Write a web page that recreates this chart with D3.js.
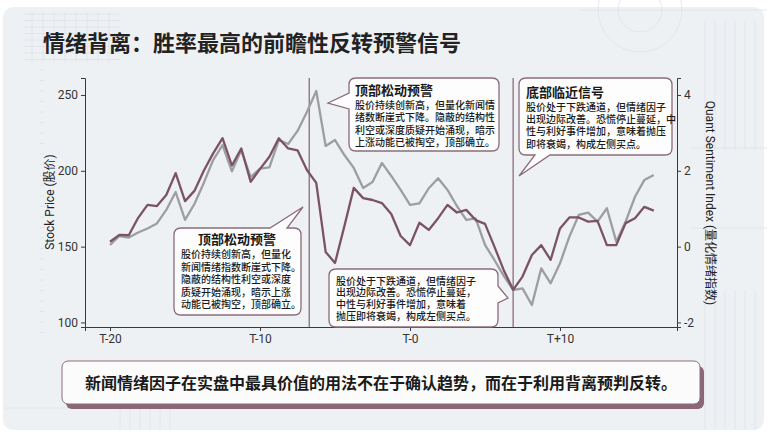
<!DOCTYPE html>
<html>
<head>
<meta charset="utf-8">
<script src="https://cdn.jsdelivr.net/npm/d3@7"></script>
<style>
  html, body { margin: 0; padding: 0; background: #fff; }
  svg { display: block; font-family: Roboto, "Noto Sans CJK SC", sans-serif; }
</style>
</head>
<body>
<svg id="chart" width="767" height="435"></svg>
<script>
// stock price (left axis) and quant sentiment index (right axis), one value per step
const price = [151.1, 157.0, 156.0, 159.3, 162.0, 165.3, 174.2, 186.0, 167.6, 178.1,
  192.0, 207.1, 217.0, 199.6, 213.7, 195.9, 201.5, 202.2, 220.3, 217.7,
  226.3, 238.8, 252.6, 216.4, 220.3, 210.4, 201.9, 188.7, 192.6, 205.2,
  196.6, 187.4, 177.5, 178.5, 188.5, 195.1, 187.4, 176.8, 167.6, 168.6,
  151.1, 141.2, 130.7, 121.4, 122.5, 111.5, 135.7, 125.8, 139.0, 156.6,
  170.9, 172.4, 166.5, 175.3, 153.3, 166.5, 182.9, 194.0, 197.3];
const sentiment = [0.13, 0.31, 0.30, 0.76, 1.10, 1.07, 1.36, 1.94, 1.20, 1.47,
  2.00, 2.46, 2.86, 2.14, 2.59, 1.71, 2.05, 2.37, 2.86, 2.59,
  2.54, 2.02, 1.68, -0.14, -0.43, 0.54, 1.55, 1.28, 1.23, 1.15,
  0.86, 0.28, 0.04, 0.63, 0.44, 0.75, 1.10, 0.90, 0.97, 0.70,
  0.60, 0.00, -0.62, -1.14, -0.79, -0.22, 0.04, -0.35, 0.48, 0.77,
  0.77, 0.66, 0.68, 0.04, 0.04, 0.62, 0.75, 1.05, 0.95];

const xTicks = [0, 16, 32, 48];
const xTickLabels = ['T-20', 'T-10', 'T-0', 'T+10'];
const priceTicks = [100, 150, 200, 250];
const sentimentTicks = [-2, 0, 2, 4];
const markerSteps = [21.25, 43];   // vertical divergence markers

const titleText = '情绪背离：胜率最高的前瞻性反转预警信号';
const bannerText = '新闻情绪因子在实盘中最具价值的用法不在于确认趋势，而在于利用背离预判反转。';

const callouts = [
  { box: [174, 228, 127, 87], ptr: { side: 'top', a: 270, b: 287, tx: 303, ty: 207 },
    title: '顶部松动预警', titleAnchor: 'middle', titleX: 237, titleY: 244,
    textX: 181, textY: 258, lh: 12.5,
    lines: ['股价持续创新高，但量化', '新闻情绪指数断崖式下降。', '隐蔽的结构性利空或深度', '质疑开始涌现，暗示上涨', '动能已被掏空，顶部确立。'] },
  { box: [349, 78, 150, 73], ptr: { side: 'left', a: 93, b: 109, tx: 328, ty: 103 },
    title: '顶部松动预警', titleAnchor: 'start', titleX: 355, titleY: 95,
    textX: 355, textY: 109, lh: 12.4,
    lines: ['股价持续创新高，但量化新闻情', '绪数断崖式下降。隐蔽的结构性', '利空或深度质疑开始涌现，暗示', '上涨动能已被掏空，顶部确立。'] },
  { box: [519, 78, 153, 77], ptr: { side: 'bottom', a: 535, b: 550, tx: 519, ty: 176 },
    title: '底部临近信号', titleAnchor: 'start', titleX: 526, titleY: 97,
    textX: 526, textY: 110.5, lh: 12.4,
    lines: ['股价处于下跌通道，但情绪因子', '出现边际改善。恐慌停止蔓延，中', '性与利好事件增加，意味着抛压', '即将衰竭，构成左侧买点。'] },
  { box: [329, 269, 169, 58], ptr: { side: 'right', a: 286, b: 303, tx: 508, ty: 298 },
    title: null, textX: 336, textY: 284.5, lh: 11.9,
    lines: ['股价处于下跌通道，但情绪因子', '出现边际改善。恐慌停止蔓延，', '中性与利好事件增加，意味着', '抛压即将衰竭，构成左侧买点。'] }
];

const maroon = '#7b5366';
const frame = '#8c6c7b';
const greyLine = '#9c9e9f';

const svg = d3.select('#chart');

// card background
svg.append('rect').attr('x', 3).attr('y', 7).attr('width', 761).attr('height', 423)
  .attr('rx', 10).attr('fill', '#eef1f4');

// faint blueprint decoration
const deco = svg.append('g').attr('stroke', '#dde2e8').attr('stroke-width', 0.8).attr('fill', 'none');
for (let i = 0; i < 8; i++) {
  deco.append('line').attr('x1', 32 + i * 11).attr('x2', 32 + i * 11).attr('y1', 12).attr('y2', 62);
  deco.append('line').attr('x1', 24).attr('x2', 120).attr('y1', 14 + i * 6.5).attr('y2', 14 + i * 6.5);
}
deco.append('circle').attr('cx', 640).attr('cy', 10).attr('r', 42);
deco.append('circle').attr('cx', 640).attr('cy', 10).attr('r', 22);
deco.append('line').attr('x1', 580).attr('x2', 767).attr('y1', 10).attr('y2', 10);
for (let i = 0; i < 6; i++) {
  deco.append('line').attr('x1', 705 + i * 10).attr('x2', 705 + i * 10).attr('y1', 20).attr('y2', 150);
  deco.append('line').attr('x1', 705 + i * 10).attr('x2', 705 + i * 10).attr('y1', 290).attr('y2', 430);
  deco.append('line').attr('x1', 120 + i * 10).attr('x2', 120 + i * 10).attr('y1', 405).attr('y2', 430);
}
deco.append('line').attr('x1', 690).attr('x2', 767).attr('y1', 148).attr('y2', 148);
deco.append('line').attr('x1', 690).attr('x2', 767).attr('y1', 228).attr('y2', 228);
deco.append('line').attr('x1', 5).attr('x2', 140).attr('y1', 408).attr('y2', 408);
for (let i = 0; i < 26; i++) {
  deco.append('line').attr('x1', 40).attr('x2', 44).attr('y1', 70 + i * 10.5).attr('y2', 70 + i * 10.5);
}

// scales
const x = d3.scaleLinear().domain([-2.67, 60.48]).range([85, 677]);
const yL = d3.scaleLinear().domain([97, 261.2]).range([327, 78]);
const yR = d3.scaleLinear().domain([(97 - 150) / 25, (261.2 - 150) / 25]).range([327, 78]);

// axes
const axisG = svg.append('g');
const bottom = axisG.append('g').attr('transform', 'translate(0,327)')
  .call(d3.axisBottom(x).tickValues(xTicks).tickFormat((d, i) => xTickLabels[i]).tickSizeOuter(0).tickSize(4));
const left = axisG.append('g').attr('transform', 'translate(85,0)')
  .call(d3.axisLeft(yL).tickValues(priceTicks).tickSizeOuter(0).tickSize(4));
const right = axisG.append('g').attr('transform', 'translate(677,0)')
  .call(d3.axisRight(yR).tickValues(sentimentTicks).tickSizeOuter(0).tickSize(4));
[bottom, left, right].forEach(g => {
  g.select('.domain').attr('stroke', '#3a3a3a').attr('stroke-width', 1);
  g.selectAll('.tick line').attr('stroke', '#3a3a3a');
  g.selectAll('.tick text').attr('fill', '#333').attr('font-size', 12)
    .attr('font-family', 'Roboto, sans-serif');
});
right.selectAll('.tick text').text(d => d < 0 ? '-' + Math.abs(d) : d);

svg.append('text').attr('transform', 'translate(54,202) rotate(-90)')
  .attr('text-anchor', 'middle').attr('font-size', 12).attr('fill', '#222')
  .text('Stock Price (股价)');
svg.append('text').attr('transform', 'translate(706,203) rotate(90)')
  .attr('text-anchor', 'middle').attr('font-size', 12).attr('fill', '#222')
  .text('Quant Sentiment Index (量化情绪指数)');

// divergence markers
svg.selectAll('.marker').data(markerSteps).enter().append('line')
  .attr('class', 'marker')
  .attr('x1', d => x(d)).attr('x2', d => x(d))
  .attr('y1', 78).attr('y2', 327)
  .attr('stroke', frame).attr('stroke-width', 1.3);

// series lines
const priceLine = d3.line().x((d, i) => x(i)).y(d => yL(d));
const sentLine = d3.line().x((d, i) => x(i)).y(d => yR(d));
svg.append('path').datum(price).attr('d', priceLine)
  .attr('fill', 'none').attr('stroke', greyLine).attr('stroke-width', 2.3).attr('stroke-linejoin', 'round');
svg.append('path').datum(sentiment).attr('d', sentLine)
  .attr('fill', 'none').attr('stroke', maroon).attr('stroke-width', 2.3).attr('stroke-linejoin', 'round');

// speech-bubble callouts
function bubble(bx, by, w, h, r, p) {
  const x1 = bx + w, y1 = by + h;
  let s = `M${bx + r},${by}`;
  if (p.side === 'top') s += `L${p.a},${by}L${p.tx},${p.ty}L${p.b},${by}`;
  s += `L${x1 - r},${by}Q${x1},${by} ${x1},${by + r}`;
  if (p.side === 'right') s += `L${x1},${p.a}L${p.tx},${p.ty}L${x1},${p.b}`;
  s += `L${x1},${y1 - r}Q${x1},${y1} ${x1 - r},${y1}`;
  if (p.side === 'bottom') s += `L${p.b},${y1}L${p.tx},${p.ty}L${p.a},${y1}`;
  s += `L${bx + r},${y1}Q${bx},${y1} ${bx},${y1 - r}`;
  if (p.side === 'left') s += `L${bx},${p.b}L${p.tx},${p.ty}L${bx},${p.a}`;
  s += `L${bx},${by + r}Q${bx},${by} ${bx + r},${by}Z`;
  return s;
}

callouts.forEach(c => {
  const g = svg.append('g');
  const [bx, by, w, h] = c.box;
  g.append('path').attr('d', bubble(bx, by, w, h, 7, c.ptr))
    .attr('fill', '#fdfdfd').attr('stroke', frame).attr('stroke-width', 1.3);
  if (c.title) {
    g.append('text').attr('x', c.titleX).attr('y', c.titleY)
      .attr('text-anchor', c.titleAnchor).attr('font-size', 13).attr('font-weight', 700)
      .attr('fill', '#1a1a1a').text(c.title);
  }
  g.selectAll('.ln').data(c.lines).enter().append('text')
    .attr('x', c.textX).attr('y', (d, i) => c.textY + i * c.lh)
    .attr('font-size', 10).attr('font-weight', 500).attr('fill', '#1a1a1a').text(d => d);
});

// title
svg.append('text').attr('x', 43).attr('y', 51)
  .attr('font-size', 22).attr('font-weight', 700).attr('fill', '#222')
  .text(titleText);

// bottom banner
svg.append('rect').attr('x', 66).attr('y', 366).attr('width', 638).attr('height', 43)
  .attr('rx', 6).attr('fill', '#8a6677');
svg.append('rect').attr('x', 62).attr('y', 361).attr('width', 638).attr('height', 43)
  .attr('rx', 6).attr('fill', '#fbfbfc').attr('stroke', frame).attr('stroke-width', 1);
svg.append('text').attr('x', 381).attr('y', 389)
  .attr('text-anchor', 'middle').attr('font-size', 16).attr('font-weight', 700)
  .attr('fill', '#1a1a1a').text(bannerText);
</script>
</body>
</html>
